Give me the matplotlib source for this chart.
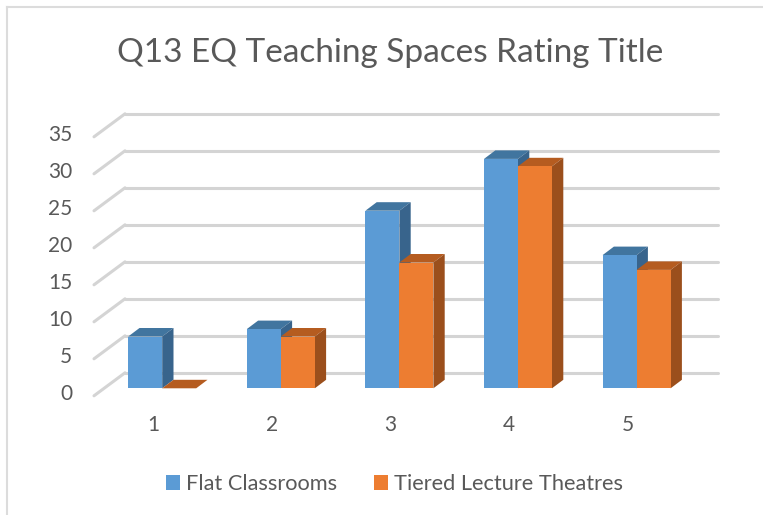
import matplotlib
matplotlib.use("Agg")
import matplotlib.pyplot as plt
from matplotlib.patches import Polygon, Patch
from matplotlib.lines import Line2D
from matplotlib.transforms import Affine2D

categories = ["1", "2", "3", "4", "5"]
flat_classrooms = [7, 8, 24, 31, 18]
tiered_theatres = [0, 7, 17, 30, 16]
y_ticks = [0, 5, 10, 15, 20, 25, 30, 35]
series_names = ["Flat Classrooms", "Tiered Lecture Theatres"]
title_text = "Q13 EQ Teaching Spaces Rating Title"

W, H = 763, 515
plt.rcParams["font.family"] = ["Lato", "DejaVu Sans"]
fig = plt.figure(figsize=(W / 100, H / 100), dpi=100, facecolor="white")

# front plane of the bars, in pixels
L, R, T, B = 102.9, 695.9, 129.3, 388.3
ax = fig.add_axes([L / W, 1 - B / H, (R - L) / W, (B - T) / H])
ax.set_xlim(0.5, 5.5)
ax.set_ylim(0, 35)
ax.axis("off")

def off(dx, dy):
    return ax.transData + Affine2D().translate(dx, dy)

# gridlines: wall slant plus back line
BX, BY = 22.1, 15.5
FX, FY = -8.9, -7.5
GRID = "#d4d4d4"
inv = ax.transData.inverted()
for v in y_ticks:
    ax.plot([0.5, 5.5], [v, v], transform=off(BX, BY), color=GRID, lw=2.2,
            solid_capstyle="round", clip_on=False, zorder=1)
    xa, ya = off(BX, BY).transform((0.5, v))
    xb, yb = off(FX, FY).transform((0.5, v))
    p = inv.transform([(xa, ya), (xb, yb)])
    ax.plot(p[:, 0], p[:, 1], color=GRID, lw=2.2, solid_capstyle="round",
            clip_on=False, zorder=1)
    ax.text(0.5, v, str(v), transform=off(-30.5, -6), ha="right", va="center",
            fontsize=15, color="#595959", clip_on=False)

DX, DY = 11.3, 8.5
bw = 34 / 118.6
styles = [("#5b9bd5", "#41759f", "#38648c"), ("#ed7d31", "#b55c20", "#9b4f1c")]

def draw_bar(x0, x1, v, front, top, side, z):
    ax.add_patch(Polygon([(x0, 0), (x1, 0), (x1, v), (x0, v)], closed=True,
                         facecolor=front, edgecolor="none", zorder=z + 0.2, clip_on=False))
    d = DX / 118.6
    h = DY / 7.4
    ax.add_patch(Polygon([(x0, v), (x1, v), (x1 + d, v + h), (x0 + d, v + h)], closed=True,
                         facecolor=top, edgecolor="none", zorder=z, clip_on=False))
    ax.add_patch(Polygon([(x1, 0), (x1 + d, h), (x1 + d, v + h), (x1, v)], closed=True,
                         facecolor=side, edgecolor="none", zorder=z, clip_on=False))

for i in range(len(categories)):
    c = i + 1
    draw_bar(c - bw, c, flat_classrooms[i], *styles[0], 3 + i)
    draw_bar(c, c + bw, tiered_theatres[i], *styles[1], 3.5 + i)
    ax.text(c, 0, categories[i], transform=off(-8.9, -36.5), ha="center", va="center",
            fontsize=15, color="#595959", clip_on=False)

fig.text(390 / W, 1 - 53 / H, title_text, ha="center", va="center", fontsize=24, color="#595959")

handles = [Patch(facecolor=styles[0][0], label=series_names[0]),
           Patch(facecolor=styles[1][0], label=series_names[1])]
leg = fig.legend(handles=handles, ncol=2, loc="center", bbox_to_anchor=(394.5 / W, 1 - 484 / H),
                 frameon=False, fontsize=15.7, labelcolor="#595959", handlelength=0.64,
                 handleheight=0.64, handletextpad=0.28, columnspacing=1.7, borderpad=0)

# chart frame
fig.add_artist(Line2D([7 / W, 7 / W], [0, 1 - 7 / H], color="#dcdcdc", lw=1.5))
fig.add_artist(Line2D([7 / W, 1], [1 - 7 / H, 1 - 7 / H], color="#dcdcdc", lw=1.5))

fig.savefig("out.png", dpi=100, facecolor="white")
